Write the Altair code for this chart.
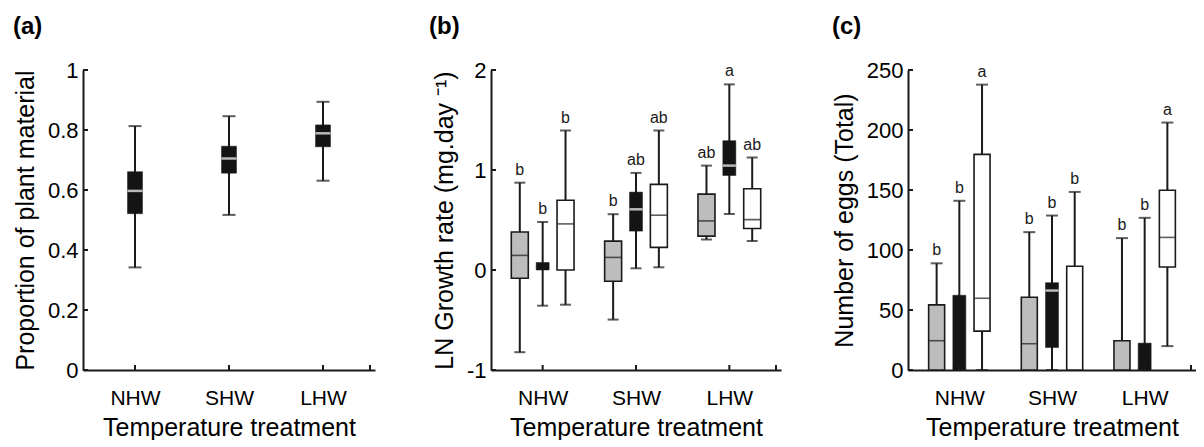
import altair as alt
import pandas as pd

TREAT = ["NHW", "SHW", "LHW"]
GROUPS = ["gray", "black", "white"]

# ---------- panel (a): proportion of plant material ----------
a_treat = ["NHW", "SHW", "LHW"]
a_group = ["black", "black", "black"]
a_min = [0.342, 0.517, 0.631]
a_q1 = [0.521, 0.656, 0.744]
a_med = [0.597, 0.705, 0.789]
a_q3 = [0.661, 0.746, 0.817]
a_max = [0.813, 0.846, 0.894]
a_letter = ["", "", ""]
a_yticks = [0, 0.2, 0.4, 0.6, 0.8, 1]

# ---------- panel (b): LN growth rate ----------
b_treat = ["NHW", "NHW", "NHW", "SHW", "SHW", "SHW", "LHW", "LHW", "LHW"]
b_group = ["gray", "black", "white"] * 3
b_min = [-0.822, -0.357, -0.347, -0.496, 0.017, 0.027, 0.305, 0.560, 0.289]
b_q1 = [-0.083, 0.0, 0.0, -0.112, 0.389, 0.226, 0.339, 0.945, 0.415]
b_med = [0.146, None, 0.461, 0.126, 0.607, 0.548, 0.491, 1.044, 0.504]
b_q3 = [0.380, 0.075, 0.697, 0.289, 0.779, 0.856, 0.759, 1.293, 0.813]
b_max = [0.873, 0.480, 1.395, 0.558, 0.971, 1.395, 1.044, 1.856, 1.124]
b_letter = ["b", "b", "b", "b", "ab", "ab", "ab", "a", "ab"]
b_yticks = [-1, 0, 1, 2]

# ---------- panel (c): number of eggs ----------
c_treat = b_treat
c_group = b_group
c_min = [0, 0, 0, 0, 0, 0, 0, 0, 19.9]
c_q1 = [0, 0, 32.4, 0, 18.8, 0, 0, 0, 85.8]
c_med = [24.4, None, 59.8, 21.9, 66.2, None, None, None, 110.5]
c_q3 = [54.3, 62.3, 179.7, 60.6, 72.8, 86.4, 24.4, 22.4, 149.8]
c_max = [88.9, 141.0, 237.8, 114.9, 128.7, 148.4, 109.9, 126.8, 206.2]
c_letter = ["b", "b", "a", "b", "b", "b", "b", "b", "a"]
c_yticks = [0, 50, 100, 150, 200, 250]

X_TICKS = [1, 2, 3, 3.5]
FILL = {"gray": "#bdbdbd", "black": "#141414", "white": "#ffffff"}
INK = "#1a1a1a"
FONT = "Liberation Sans"
H = 300


def make_df(treat, group, mn, q1, med, q3, mx, letters, single=False):
    rows = []
    for t, g, a, b, m, c, d, l in zip(treat, group, mn, q1, med, q3, mx, letters):
        off = 0.0 if single else (GROUPS.index(g) - 1) * 0.245
        rows.append(dict(treat=t, group=g, pos=TREAT.index(t) + 1 + off,
                         lo=a, q1=b, med=m, q3=c, hi=d, letter=l))
    return pd.DataFrame(rows)


def panel(df, yticks, ydomain, ytitle, label, label_dx, box_w, black_w, cap_w, W):
    label_expr = "[" + ",".join("'%s'" % t for t in TREAT) + "][round(datum.value) - 1]"
    x = alt.X("pos:Q", scale=alt.Scale(domain=[0.5, 3.5], nice=False, zero=False),
              axis=alt.Axis(values=[1, 2, 3], labelExpr=label_expr,
                            title="Temperature treatment", ticks=False, tickSize=0,
                            labelFontSize=21, labelPadding=17, titlePadding=7))
    y = alt.Y("lo:Q", scale=alt.Scale(domain=ydomain, nice=False, zero=False),
              axis=alt.Axis(values=yticks, labelExpr="'' + datum.value", title=ytitle,
                            ticks=False, tickSize=0, labelFontSize=22,
                            labelPadding=5, titlePadding=9))
    base = alt.Chart(df)
    whisk = base.mark_rule(color=INK, strokeWidth=2).encode(x=x, y=y, y2="hi:Q")
    caps_hi = base.mark_tick(color=INK, orient="horizontal", size=cap_w, thickness=2).encode(
        x="pos:Q", y="hi:Q")
    caps_lo = base.mark_tick(color=INK, orient="horizontal", size=cap_w, thickness=2).encode(
        x="pos:Q", y="lo:Q")
    color = alt.Color("group:N", scale=alt.Scale(domain=GROUPS, range=[FILL[g] for g in GROUPS]),
                      legend=None)
    boxes_wide = base.transform_filter("datum.group != 'black'").mark_bar(
        size=box_w, stroke=INK, strokeWidth=1.6).encode(
        x="pos:Q", y="q1:Q", y2="q3:Q", color=color)
    boxes_black = base.transform_filter("datum.group == 'black'").mark_bar(
        size=black_w, stroke=INK, strokeWidth=0.5).encode(
        x="pos:Q", y="q1:Q", y2="q3:Q", color=color)
    med_dark = base.transform_filter("datum.group != 'black' && isValid(datum.med)").mark_tick(
        color=INK, orient="horizontal", size=box_w - 1, thickness=1.6).encode(x="pos:Q", y="med:Q")
    med_light = base.transform_filter("datum.group == 'black' && isValid(datum.med)").mark_tick(
        color="#ffffff", orient="horizontal", size=black_w, thickness=2.5).encode(x="pos:Q", y="med:Q")
    letters = base.mark_text(font=FONT, fontSize=16, color=INK, baseline="bottom", dy=-5).encode(
        x="pos:Q", y="hi:Q", text="letter:N")
    ytk = alt.Chart(pd.DataFrame({"v": yticks})).mark_rule(color=INK, strokeWidth=2).encode(
        y="v:Q", x=alt.value(0), x2=alt.value(5))
    xtk = alt.Chart(pd.DataFrame({"v": X_TICKS})).mark_rule(color=INK, strokeWidth=2).encode(
        x="v:Q", y=alt.value(H), y2=alt.value(H - 5))
    lab = alt.Chart(pd.DataFrame({"t": [label]})).mark_text(
        font=FONT, fontSize=24, fontWeight="bold", color="#000000", align="left",
        baseline="alphabetic").encode(text="t:N", x=alt.value(label_dx), y=alt.value(-36))
    return alt.layer(whisk, caps_hi, caps_lo, boxes_wide, boxes_black, med_dark, med_light,
                     letters, ytk, xtk, lab).properties(width=W, height=H)


df_a = make_df(a_treat, a_group, a_min, a_q1, a_med, a_q3, a_max, a_letter, single=True)
df_b = make_df(b_treat, b_group, b_min, b_q1, b_med, b_q3, b_max, b_letter)
df_c = make_df(c_treat, c_group, c_min, c_q1, c_med, c_q3, c_max, c_letter)

pa = panel(df_a, a_yticks, [0, 1], "Proportion of plant material", "(a)", -70, 15, 15, 13, 292)
pb = panel(df_b, b_yticks, [-1, 2], "LN Growth rate (mg.day \u207b\u00b9)", "(b)", -62, 17, 13, 11, 290)
pc = panel(df_c, c_yticks, [0, 250], "Number of eggs (Total)", "(c)", -76, 16, 13, 12, 288)

chart = alt.hconcat(pa, alt.hconcat(pb, pc, spacing=51), spacing=54).properties(
    padding={"left": 5, "top": 7, "right": 0, "bottom": 0}
).configure_view(stroke=None).configure_axis(
    grid=False, domainColor=INK, domainWidth=2, labelFont=FONT, titleFont=FONT,
    titleFontSize=25, labelColor="#000000", titleColor="#000000",
    titleFontWeight="normal"
)

chart.save("out.html", embed_options={"renderer": "svg", "actions": False})
